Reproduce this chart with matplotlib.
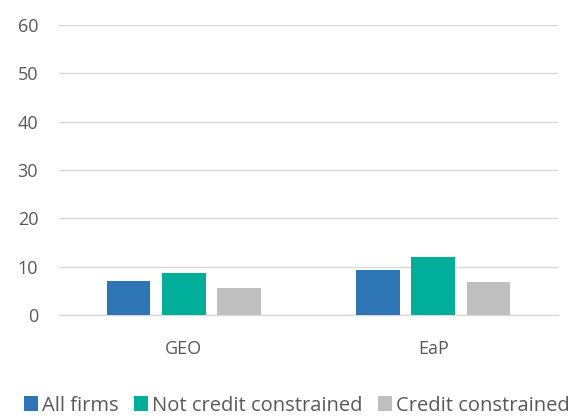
import matplotlib
matplotlib.use("Agg")
import matplotlib.pyplot as plt
import numpy as np

categories = ["GEO", "EaP"]
series_names = ["All firms", "Not credit constrained", "Credit constrained"]
all_firms = [7.1, 9.4]
not_constrained = [8.7, 11.9]
constrained = [5.5, 6.9]
yticks = [0, 10, 20, 30, 40, 50, 60]

colors = ["#2E75B6", "#00AE9A", "#BFBFBF"]
plt.rcParams['font.family'] = ['Open Sans', 'DejaVu Sans']

fig = plt.figure(figsize=(5.8, 4.17), dpi=100)
ax = fig.add_axes([0.1017, 0.2446, 0.8603, 0.6954])

x = np.arange(len(categories))
w = 0.1747
step = 0.221
for i, (vals, name) in enumerate(zip([all_firms, not_constrained, constrained], series_names)):
    ax.bar(x + (i - 1) * step, vals, width=w, color=colors[i], label=name, zorder=3)

ax.set_xlim(-0.5, 1.5)
ax.set_ylim(0, 60)
ax.set_yticks(yticks)
ax.set_xticks(x)
ax.set_xticklabels(categories)
ax.grid(axis='y', color='#D9D9D9', linewidth=1.0, zorder=0)
for s in ['top', 'right', 'left']:
    ax.spines[s].set_visible(False)
ax.spines['bottom'].set_color('#D9D9D9')
ax.spines['bottom'].set_linewidth(1.0)
ax.tick_params(axis='both', length=0, labelsize=13, labelcolor='#595959')
ax.tick_params(axis='y', pad=15)
ax.tick_params(axis='x', pad=18)

leg = fig.legend(loc='lower center', bbox_to_anchor=(0.512, -0.04), ncol=3, frameon=False,
                 fontsize=14.5, handlelength=0.7, handleheight=0.7, handletextpad=0.2,
                 columnspacing=0.75, labelcolor='#595959')

fig.savefig("out.png", dpi=100)
